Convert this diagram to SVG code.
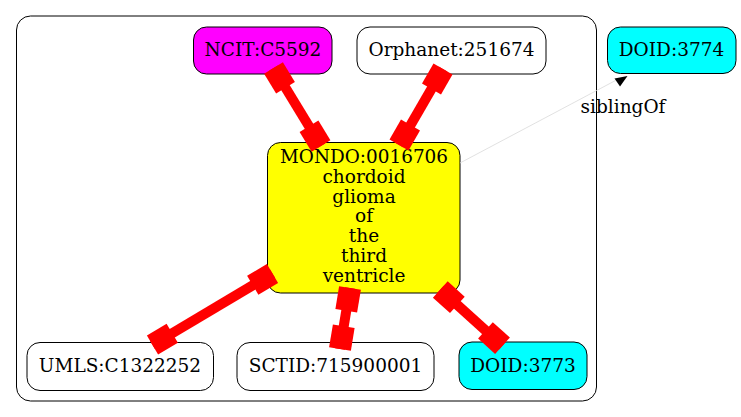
<svg xmlns="http://www.w3.org/2000/svg" width="741" height="417" viewBox="0 0 741 417">
<style>
.node rect{stroke:#000;stroke-width:1}
text{font-family:"DejaVu Serif","Liberation Serif",serif;font-size:18.5px;fill:#000;text-anchor:middle}
.e line{stroke:#f00;stroke-width:10}
.e polygon{fill:#f00;stroke:none}
</style>
<rect width="741" height="417" fill="#fff"/>
<rect id="cluster" x="16.5" y="16" width="580" height="385" rx="14" fill="none" stroke="#000" stroke-width="1"/>
<g id="NCIT_C5592" class="node"><rect x="193.5" y="27" width="138.5" height="47" rx="13" fill="#ff00ff"/><text x="263" y="56">NCIT:C5592</text></g>
<g id="Orphanet_251674" class="node"><rect x="357" y="27" width="189" height="47" rx="13" fill="#fff"/><text x="451.5" y="56">Orphanet:251674</text></g>
<g id="DOID_3774" class="node"><rect x="607.5" y="27" width="128.5" height="46.5" rx="13" fill="#00ffff"/><text x="671.5" y="56">DOID:3774</text></g>
<g id="MONDO_0016706" class="node"><rect x="267.5" y="142.5" width="192.5" height="150.5" rx="13" fill="#ffff00"/>
<text x="364" y="163" textLength="168" lengthAdjust="spacingAndGlyphs">MONDO:0016706</text><text x="364" y="182.75">chordoid</text><text x="364" y="202.5">glioma</text><text x="364" y="222.25">of</text><text x="364" y="242">the</text><text x="364" y="261.75">third</text><text x="364" y="281.5">ventricle</text></g>
<g id="UMLS_C1322252" class="node"><rect x="27" y="342.5" width="186.5" height="48" rx="13" fill="#fff"/><text x="120" y="372">UMLS:C1322252</text></g>
<g id="SCTID_715900001" class="node"><rect x="237" y="342.5" width="197" height="48" rx="13" fill="#fff"/><text x="335.5" y="372">SCTID:715900001</text></g>
<g id="DOID_3773" class="node"><rect x="459" y="342" width="128" height="47.5" rx="13" fill="#00ffff"/><text x="523" y="372">DOID:3773</text></g>
<g id="connectors">
<g class="e"><line x1="273.5" y1="68" x2="321" y2="146"/><polygon points="264.1,73.7 282.9,62.3 294.9,81.9 276.1,93.4"/><polygon points="311.6,151.7 330.4,140.3 318.4,120.6 299.6,132.1"/></g>
<g class="e"><line x1="443" y1="69" x2="399" y2="145"/><polygon points="433.5,63.5 452.5,74.5 441,94.4 422,83.4"/><polygon points="389.5,139.5 408.5,150.5 420,130.6 401,119.6"/></g>
<g class="e"><line x1="272.5" y1="273.5" x2="152.5" y2="345"/><polygon points="266.9,264.1 278.1,283 258.4,294.7 247.1,275.8"/><polygon points="146.9,335.6 158.1,354.5 177.9,342.7 166.6,323.8"/></g>
<g class="e"><line x1="350" y1="288" x2="340" y2="349"/><polygon points="339.1,286.2 360.9,289.8 357.1,312.5 335.4,308.9"/><polygon points="329.1,347.2 350.9,350.8 354.6,328.1 332.9,324.5"/></g>
<g class="e"><line x1="440.3" y1="289.5" x2="502.5" y2="345.8"/><polygon points="432.9,297.7 447.7,281.3 464.7,296.8 450,313.1"/><polygon points="495.1,354 509.9,337.6 492.8,322.2 478.1,338.5"/></g>
<g id="siblingOf"><line x1="460" y1="163" x2="615.5" y2="80.5" stroke="#d9d9d9" stroke-width="0.8"/><polygon points="614.5,78.5 627.5,76 620,86.5" fill="#000"/><text x="623" y="113.3">siblingOf</text></g>
</g>
</svg>
